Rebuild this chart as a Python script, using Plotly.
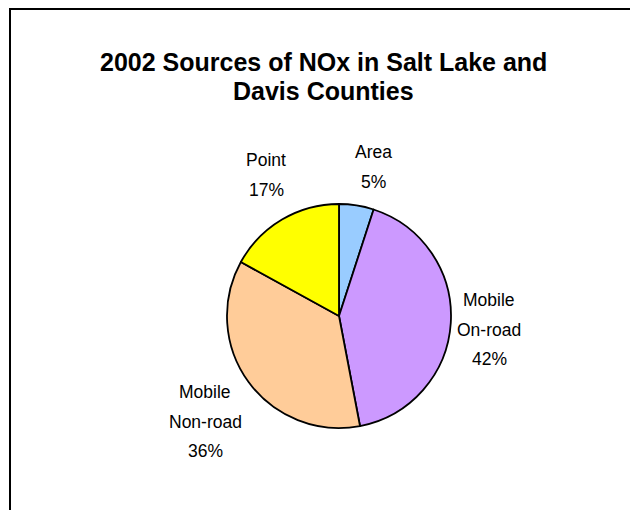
import plotly.graph_objects as go

W, H = 638, 510
OFF = 8  # page offset of the plot div (body margin)

categories = ["Area", "Mobile On-road", "Mobile Non-road", "Point"]
label_lines = [["Area"], ["Mobile", "On-road"], ["Mobile", "Non-road"], ["Point"]]
values = [5, 42, 36, 17]
colors = ["#99CCFF", "#CC99FF", "#FFCC99", "#FFFF00"]
title_lines = ["2002 Sources of NOx in Salt Lake and", "Davis Counties"]

# label anchor (centre of first line) in page pixels
label_pos = [(373, 152), (489, 300), (205, 392), (266, 160)]
line_gap = 29.5

cx, cy, r = 339 - OFF, 316 - OFF, 112


def px(x):
    return (x - OFF) / W


def py(y):
    return 1 - (y - OFF) / H


fig = go.Figure()
fig.add_trace(go.Pie(
    labels=categories, values=values, sort=False, direction="clockwise",
    rotation=0, marker=dict(colors=colors, line=dict(color="black", width=1.8)),
    textinfo="none", hoverinfo="label+percent", showlegend=False,
    domain=dict(x=[(cx - r) / W, (cx + r) / W], y=[(H - cy - r) / H, (H - cy + r) / H]),
))

anns = []
font = dict(family="Liberation Sans, Arial", size=17.5, color="black")
total = sum(values)
for lines, v, (lx, ly) in zip(label_lines, values, label_pos):
    texts = lines + [f"{round(100 * v / total)}%"]
    for i, t in enumerate(texts):
        anns.append(dict(x=px(lx), y=py(ly + i * line_gap), xref="paper", yref="paper",
                         text=t, showarrow=False, font=font, xanchor="center", yanchor="middle"))

tfont = dict(family="Liberation Sans, Arial", size=25, color="black")
for i, t in enumerate(title_lines):
    anns.append(dict(x=px(323), y=py(62 + i * 29), xref="paper", yref="paper",
                     text=f"<b>{t}</b>", showarrow=False, font=tfont, xanchor="center", yanchor="middle"))

shapes = [
    dict(type="line", xref="paper", yref="paper", x0=px(10), x1=px(10), y0=py(9), y1=-0.05,
         line=dict(color="black", width=2)),
    dict(type="line", xref="paper", yref="paper", x0=px(9), x1=1.05, y0=py(9), y1=py(9),
         line=dict(color="black", width=2)),
]

fig.update_layout(width=W, height=H, margin=dict(l=0, r=0, t=0, b=0),
                  paper_bgcolor="white", plot_bgcolor="white",
                  annotations=anns, shapes=shapes)
fig.write_html("out.html")
